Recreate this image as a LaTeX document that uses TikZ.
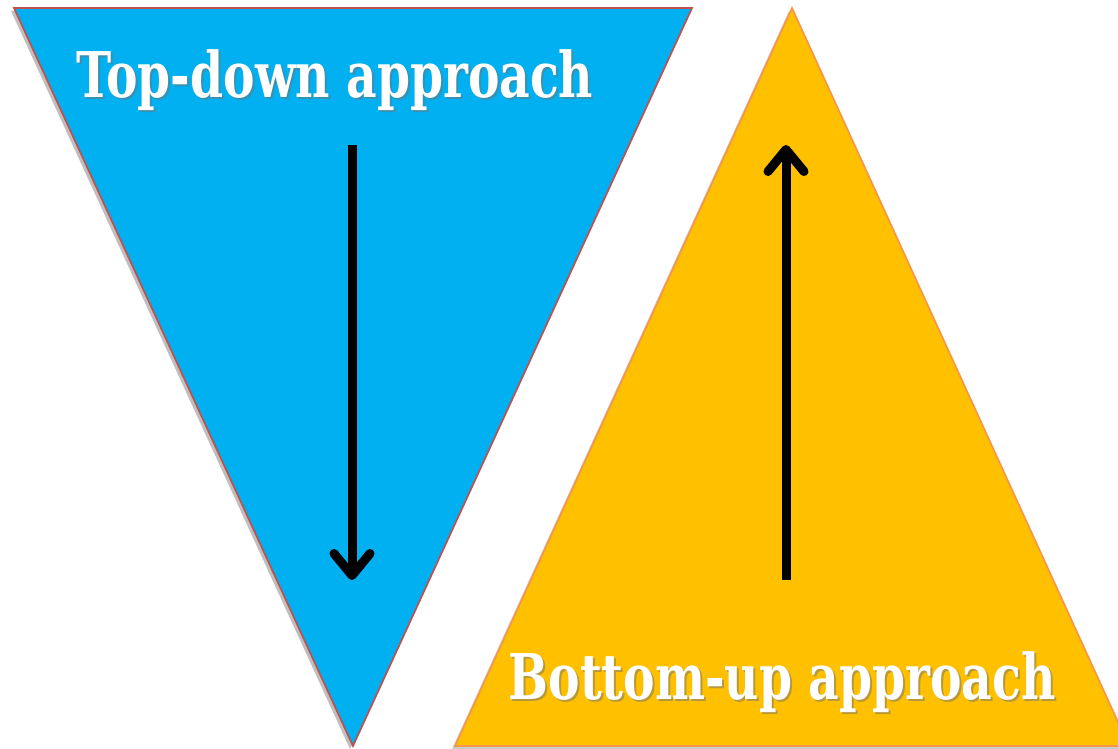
\documentclass[tikz,border=0pt]{standalone}
\usepackage{fontspec}
\setmainfont{DejaVu Serif}
\usepackage{tikz}
\usetikzlibrary{arrows.meta,positioning,calc}
\definecolor{topblue}{HTML}{00B0F0}
\definecolor{topedge}{HTML}{C0504D}
\definecolor{botgold}{HTML}{FFC000}
\definecolor{botedge}{HTML}{F79646}
\tikzset{
  label/.style={text=white,font=\bfseries\fontsize{40}{44}\selectfont,xscale=0.84,yscale=1.12,inner sep=0pt},
  shade/.style={text=black!55,font=\bfseries\fontsize{40}{44}\selectfont,xscale=0.84,yscale=1.12,inner sep=0pt,opacity=0.5},
  flow/.style={line width=6.4pt,-{Straight Barb[length=0.55cm,width=0.9cm,round]}}
}
\begin{document}
\begin{tikzpicture}[x=0.025cm,y=-0.025cm]
\useasboundingbox (0,0) rectangle (1118,749);
\clip (0,0) rectangle (1118,749);
% triangles
\fill[black!25] (11,11) -- (689,11) -- (350,749) -- cycle;
\draw[fill=topblue,draw=topedge,line width=1.2pt] (14,8) -- (692,8) -- (353,746) -- cycle;
\fill[black!20] (789,11) -- (452,749) -- (1126,749) -- cycle;
\draw[fill=botgold,draw=botedge,line width=1.2pt] (792,8) -- (455,746) -- (1129,746) -- cycle;
% labels
\node[shade] at (337,82) {Top-down approach};
\node[label] (top) at (335,80) {Top-down approach};
\node[shade] at (784,684) {Bottom-up approach};
\node[label] (bot) at (782,682) {Bottom-up approach};
% arrows
\coordinate (d0) at (352,145);
\coordinate (d1) at (352,580);
\coordinate (u0) at (786,580);
\coordinate (u1) at (786,145);
\draw[flow] (d0) -- (d1);
\draw[flow] (u0) -- (u1);
\end{tikzpicture}
\end{document}
